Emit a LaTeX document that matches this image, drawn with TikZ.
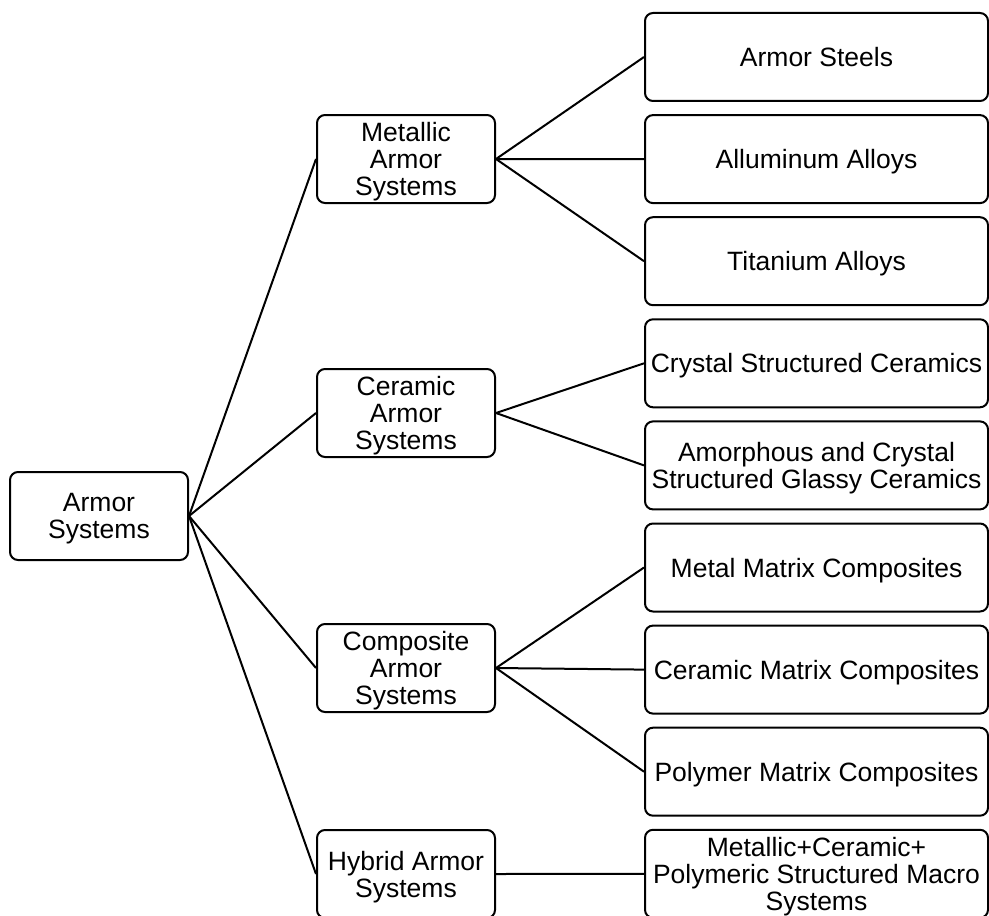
\documentclass[tikz,border=0pt]{standalone}
\usepackage{fontspec}
\setmainfont{Liberation Sans}
\usetikzlibrary{positioning}

\begin{document}
\begin{tikzpicture}[x=0.5pt, y=-0.5pt, b/.style={draw, rounded corners=4pt, line width=1pt, align=center, minimum height=44pt, inner sep=1pt, text depth=0pt, font=\fontsize{13.25}{13.4}\selectfont}, m/.style={b, minimum width=89pt}, l/.style={b, minimum width=171.5pt}, e/.style={line width=1pt}, node distance=6.05pt]
		\clip (0,0) rectangle (989,915);
		\node[m] (A) at (99,516) {Armor\\Systems};

		\node[m] (M) at (406,159) {Metallic\\Armor\\Systems};
		\node[m] (C) at (406,413) {Ceramic\\Armor\\Systems};
		\node[m] (P) at (406,668) {Composite\\Armor\\Systems};
		\node[m] (H) at (406,874) {Hybrid Armor\\Systems};

		\node[l] (st) at (816.5,57) {Armor Steels};
		\node[l, below=of st] (al) {Alluminum Alloys};
		\node[l, below=of al] (ti) {Titanium Alloys};
		\node[l, below=of ti] (cr) {Crystal Structured Ceramics};
		\node[l, below=of cr] (am) {Amorphous and Crystal\\Structured Glassy Ceramics};
		\node[l, below=of am] (mm) {Metal Matrix Composites};
		\node[l, below=of mm] (cm) {Ceramic Matrix Composites};
		\node[l, below=of cm] (pm) {Polymer Matrix Composites};
		\node[l, below=of pm] (mc) {Metallic+Ceramic+\\Polymeric Structured Macro\\Systems};

		\path[e] (A.east) edge (M.west) edge (C.west) edge (P.west) edge (H.west);
		\path[e] (M.east) edge (st.west) edge (al.west) edge (ti.west);
		\path[e] (C.east) edge (cr.west) edge (am.west);
		\path[e] (P.east) edge (mm.west) edge (cm.west) edge (pm.west);
		\path[e] (H.east) edge (mc.west);
	\end{tikzpicture}
\end{document}
